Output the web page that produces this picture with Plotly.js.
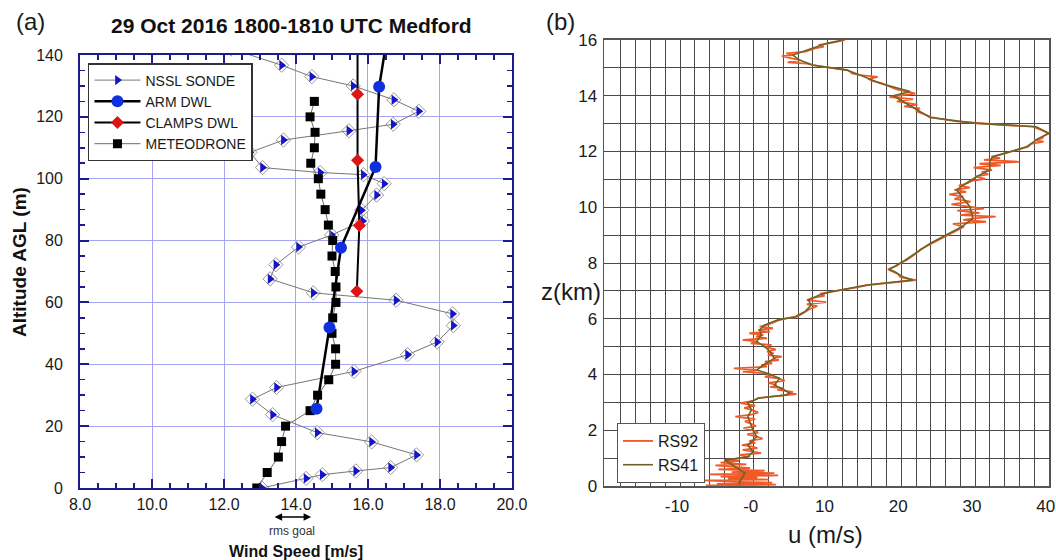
<!DOCTYPE html>
<html>
<head>
<meta charset="utf-8">
<script src="https://cdn.plot.ly/plotly-3.0.1.min.js"></script>
<style>html,body{margin:0;padding:0;background:#fff;}#chart{width:1056px;height:560px;}</style>
</head>
<body>
<div id="chart"></div>
<script>
// ---------- Panel (a) data ----------
const nsslAlt   = [0, 3.1, 4.3, 5.5, 6.6, 10.7, 14.9, 17.9, 23.7, 28.7, 32.5, 37.7, 43.1, 47.2, 52.5, 56.3, 60.7, 63.1, 67.6, 72.2, 77.9, 81.8, 86.3, 89.8, 94.7, 98.4, 101.3, 102.0, 103.6, 108.5, 112.5, 115.5, 117.6, 121.8, 125.5, 130.0, 133.0, 136.7, 142.0];
const nsslSpeed = [13.05, 14.28, 14.73, 15.66, 16.63, 17.35, 16.10, 14.59, 13.35, 12.79, 13.46, 15.61, 17.10, 17.92, 18.37, 18.35, 16.78, 14.48, 13.28, 13.44, 14.07, 14.99, 15.85, 15.82, 16.24, 16.45, 15.87, 14.67, 13.07, 12.72, 13.65, 15.47, 16.70, 17.41, 16.72, 15.59, 14.44, 13.60, 12.2];

const armAlt   = [25.6, 51.9, 77.7, 103.8, 129.7, 155];
const armSpeed = [14.57, 14.93, 15.25, 16.21, 16.31, 16.66];

const clampsAlt   = [63.6, 84.9, 106.0, 127.3, 150];
const clampsSpeed = [15.69, 15.76, 15.71, 15.71, 15.71];

const meteoAlt   = [0, 5, 10, 15, 20, 25, 30, 35, 40, 45, 50, 55, 60, 65, 70, 75, 80, 85, 90, 95, 100, 105, 110, 115, 120, 125];
const meteoSpeed = [12.91, 13.20, 13.51, 13.60, 13.71, 14.39, 14.60, 14.91, 15.10, 15.10, 15.00, 15.02, 15.11, 15.11, 15.09, 15.00, 15.02, 14.90, 14.81, 14.69, 14.62, 14.41, 14.51, 14.53, 14.39, 14.51];

const xTicksA = [8, 10, 12, 14, 16, 18, 20];

// ---------- Panel (b) data ----------
const rs41Z = [0.05, 0.2, 0.46, 0.69, 0.93, 1.05, 1.23, 1.47, 1.77, 2.0, 2.25, 2.49, 2.73, 2.97, 3.15, 3.26, 3.33, 3.5, 3.62, 3.86, 4.04, 4.16, 4.34, 4.58, 4.82, 5.0, 5.18, 5.42, 5.6, 5.78, 5.96, 6.07, 6.25, 6.49, 6.67, 6.85, 6.97, 7.1, 7.21, 7.39, 7.51, 7.69, 7.77, 8.1, 8.7, 9.3, 9.6, 10.02, 10.38, 10.62, 10.86, 11.1, 11.34, 11.63, 11.81, 11.99, 12.17, 12.47, 12.65, 12.89, 13.01, 13.22, 13.73, 14.0, 14.15, 14.45, 14.74, 14.92, 15.1, 15.28, 15.46, 15.58, 15.7, 15.88, 15.96, 16.0];
const rs41U = [-2.0, -1.8, -1.2, -2.6, -3.9, -0.8, -0.1, -0.8, 0.4, -0.1, -0.5, -0.8, -0.3, -0.8, 0.6, 4.2, 4.9, 3.8, 2.8, 3.5, 1.9, 0.4, 1.3, 2.8, 2.2, 1.5, 0.4, 1.0, 0.8, 1.5, 3.3, 5.6, 6.9, 7.8, 7.4, 8.9, 10.5, 13.0, 15.3, 21.6, 20.2, 19.1, 18.4, 20.5, 23.9, 28.2, 29.7, 29.3, 28.2, 27.5, 28.8, 30.2, 32.0, 32.0, 32.4, 34.7, 37.0, 38.6, 40.0, 38.3, 30.2, 23.9, 20.7, 18.9, 21.2, 17.1, 14.4, 12.6, 8.0, 6.2, 5.3, 6.7, 8.0, 9.9, 11.4, 12.0];

const rs92Z = [0.02, 0.05, 0.08, 0.12, 0.15, 0.2, 0.23, 0.27, 0.3, 0.34, 0.38, 0.42, 0.46, 0.5, 0.55, 0.6, 0.64, 0.69, 0.74, 0.78, 0.84, 0.9, 0.93, 0.97, 1.02, 1.06, 1.12, 1.18, 1.23, 1.3, 1.36, 1.42, 1.47, 1.55, 1.62, 1.7, 1.77, 1.85, 1.92, 2.0, 2.08, 2.15, 2.25, 2.32, 2.4, 2.49, 2.56, 2.64, 2.73, 2.8, 2.88, 2.97, 3.05, 3.15, 3.2, 3.26, 3.3, 3.33, 3.38, 3.45, 3.5, 3.56, 3.62, 3.7, 3.78, 3.86, 3.92, 3.98, 4.04, 4.1, 4.16, 4.22, 4.28, 4.34, 4.4, 4.46, 4.52, 4.58, 4.64, 4.7, 4.76, 4.82, 4.9, 5.0, 5.06, 5.12, 5.18, 5.24, 5.3, 5.36, 5.42, 5.48, 5.54, 5.6, 5.66, 5.72, 5.78, 5.86, 5.96, 6.02, 6.07, 6.15, 6.25, 6.35, 6.45, 6.52, 6.6, 6.67, 6.75, 6.82, 6.9, 6.97, 7.05, 7.12, 7.21, 7.3, 7.39, 7.45, 7.51, 7.6, 7.69, 7.77, 7.9, 8.0, 8.1, 8.3, 8.5, 8.7, 8.9, 9.1, 9.2, 9.3, 9.4, 9.48, 9.55, 9.6, 9.66, 9.72, 9.8, 9.88, 9.95, 10.02, 10.1, 10.2, 10.3, 10.38, 10.46, 10.55, 10.62, 10.7, 10.78, 10.86, 10.95, 11.02, 11.1, 11.18, 11.26, 11.34, 11.42, 11.5, 11.56, 11.63, 11.7, 11.76, 11.81, 11.9, 11.99, 12.08, 12.17, 12.27, 12.35, 12.41, 12.47, 12.56, 12.65, 12.75, 12.82, 12.89, 12.95, 13.01, 13.08, 13.15, 13.22, 13.35, 13.45, 13.55, 13.62, 13.68, 13.73, 13.8, 13.88, 13.95, 14.0, 14.08, 14.15, 14.22, 14.3, 14.38, 14.45, 14.52, 14.6, 14.68, 14.74, 14.8, 14.88, 14.92, 15.0, 15.05, 15.1, 15.15, 15.2, 15.28, 15.35, 15.42, 15.46, 15.52, 15.58, 15.64, 15.7, 15.76, 15.82, 15.88, 15.94, 16.0];
const rs92U = [-6.5, 3.0, -5.0, 2.5, -2.0, -6.8, 2.0, -3.5, 0.5, -4.5, 3.3, -6.0, 2.8, -3.0, 1.5, -4.8, -0.5, -2.6, -5.2, -1.0, -4.5, -2.0, -4.0, -2.5, -1.0, -0.5, -2.0, 1.0, -0.1, -1.5, 0.5, -0.3, -1.6, 0.2, -0.6, 1.2, 0.4, -0.9, 0.6, -0.1, -1.4, 0.3, -0.5, -1.2, 0.2, -2.5, -0.3, 0.6, -0.3, -1.3, 0.2, -1.8, -0.2, 0.6, 2.0, 4.2, 5.8, 4.6, 5.3, 3.2, 4.1, 2.2, 3.1, 2.0, 4.2, 3.3, 1.5, 2.6, 1.6, -1.5, 0.6, -2.7, 1.8, 1.0, 2.5, 1.5, 3.4, 2.6, 3.8, 1.9, 2.7, 1.8, 3.0, 1.3, 2.4, -0.4, 0.6, -1.5, 1.8, 0.3, 1.3, -0.6, 2.2, 0.6, 2.6, 0.8, 1.8, 2.6, 3.5, 4.6, 5.8, 6.4, 7.1, 7.6, 8.6, 7.2, 9.8, 7.2, 8.0, 9.6, 9.0, 10.6, 12.5, 13.8, 15.5, 18.5, 22.0, 20.6, 19.8, 19.6, 18.8, 18.2, 19.4, 19.9, 20.7, 21.8, 22.7, 24.1, 25.5, 27.0, 27.8, 28.5, 27.0, 31.5, 28.4, 29.9, 32.8, 28.0, 30.6, 27.6, 31.2, 29.2, 26.8, 29.4, 27.2, 28.4, 26.5, 28.8, 27.2, 29.3, 27.8, 29.0, 29.6, 31.4, 30.0, 31.8, 30.9, 32.3, 29.8, 33.5, 30.6, 36.0, 31.2, 33.4, 32.2, 33.6, 34.9, 36.0, 37.2, 37.6, 39.3, 38.0, 39.1, 39.3, 40.0, 39.2, 38.6, 37.8, 34.0, 30.5, 27.5, 25.8, 24.2, 23.0, 22.0, 22.5, 20.4, 22.2, 20.9, 19.4, 21.6, 18.4, 19.6, 21.9, 20.8, 19.5, 18.7, 17.9, 17.3, 16.2, 15.5, 16.8, 14.4, 13.3, 13.0, 12.7, 10.2, 9.0, 8.0, 7.2, 4.6, 6.3, 5.0, 3.8, 5.4, 4.4, 7.0, 7.7, 8.3, 9.5, 8.8, 10.2, 11.3, 12.4];

const xGridB = [-18, -16, -14, -12, -10, -8, -6, -4, -2, 0, 2, 4, 6, 8, 10, 12, 14, 16, 18, 20, 22, 24, 26, 28, 30, 32, 34, 36, 38, 40];
const xLabelB = {"-10": "-10", "0": "-0", "10": "10", "20": "20", "30": "30", "40": "40"};
const yGridB = [0, 1, 2, 3, 4, 5, 6, 7, 8, 9, 10, 11, 12, 13, 14, 15, 16];

// ---------- figure ----------
const FONT = "Liberation Sans, Arial, Helvetica, sans-serif";
const NAVY = "#1c1c8a";

const traces = [
  { x: nsslSpeed, y: nsslAlt, type: "scatter", mode: "markers", showlegend: false, hoverinfo: "skip",
    marker: { symbol: "diamond", size: 11, color: "#ffffff", line: { color: "#9a9a9a", width: 1 } } },
  { x: nsslSpeed, y: nsslAlt, type: "scatter", mode: "lines+markers", name: "NSSL SONDE", legendrank: 1,
    line: { color: "#777777", width: 1 },
    marker: { symbol: "triangle-right", size: 9, color: "#1414c8", line: { width: 0 } } },
  { x: meteoSpeed, y: meteoAlt, type: "scatter", mode: "lines+markers", name: "METEODRONE", legendrank: 4,
    line: { color: "#6a6a6a", width: 1 },
    marker: { symbol: "square", size: 9, color: "#000000" } },
  { x: clampsSpeed, y: clampsAlt, type: "scatter", mode: "lines+markers", name: "CLAMPS DWL", legendrank: 3,
    line: { color: "#000000", width: 2 },
    marker: { symbol: "diamond", size: 10, color: "#e01414" } },
  { x: armSpeed, y: armAlt, type: "scatter", mode: "lines+markers", name: "ARM DWL", legendrank: 2,
    line: { color: "#000000", width: 2.5 },
    marker: { symbol: "circle", size: 12, color: "#1030e0" } },

  { x: rs92U, y: rs92Z, type: "scatter", mode: "lines", name: "RS92", xaxis: "x2", yaxis: "y2", legend: "legend2",
    line: { color: "#f05a28", width: 1.8 } },
  { x: rs41U, y: rs41Z, type: "scatter", mode: "lines", name: "RS41", xaxis: "x2", yaxis: "y2", legend: "legend2",
    line: { color: "#6a6428", width: 1.6 } }
];

const layout = {
  width: 1056, height: 560,
  margin: { l: 0, r: 0, t: 0, b: 0 },
  paper_bgcolor: "#ffffff", plot_bgcolor: "#ffffff",
  font: { family: FONT, color: "#1a1a1a" },
  showlegend: true,
  xaxis: {
    domain: [0.0758, 0.4848], range: [8, 20], anchor: "y",
    tickmode: "array", tickvals: xTicksA, tickformat: ".1f",
    ticks: "inside", ticklen: 9, tickwidth: 2, tickcolor: NAVY,
    showline: true, linewidth: 2, linecolor: NAVY, mirror: "ticks",
    showgrid: true, gridcolor: "#a4a4f2", gridwidth: 1, zeroline: false,
    minor: { dtick: 0.5, ticks: "inside", ticklen: 5, tickwidth: 1.5, tickcolor: NAVY, showgrid: false },
    tickfont: { size: 16, color: "#1a1a1a" }, ticklabelstandoff: 1, ticklabeloverflow: "allow"
  },
  yaxis: {
    domain: [0.1286, 0.9018], range: [0, 140], anchor: "x",
    dtick: 20, tick0: 0,
    ticks: "inside", ticklen: 9, tickwidth: 2, tickcolor: NAVY,
    showline: true, linewidth: 2, linecolor: NAVY, mirror: "ticks",
    showgrid: true, gridcolor: "#a4a4f2", gridwidth: 1, zeroline: false,
    minor: { dtick: 5, ticks: "inside", ticklen: 5, tickwidth: 1.5, tickcolor: NAVY, showgrid: false },
    tickfont: { size: 16, color: "#1a1a1a" }, ticklabelstandoff: 12, ticklabeloverflow: "allow"
  },
  xaxis2: {
    domain: [0.572, 0.9934], range: [-20.3, 40.03], anchor: "y2",
    tickmode: "array", tickvals: xGridB, ticktext: xGridB.map(v => xLabelB[String(v)] || ""),
    ticks: "", showline: true, linewidth: 1.5, linecolor: "#555555", mirror: true,
    showgrid: true, gridcolor: "#4a4a4a", gridwidth: 1, zeroline: false,
    tickfont: { size: 17, color: "#1a1a1a" }, ticklabelstandoff: 4, ticklabelshift: -3, ticklabeloverflow: "allow"
  },
  yaxis2: {
    domain: [0.1321, 0.9286], range: [0, 16], anchor: "x2",
    tickmode: "array", tickvals: yGridB, ticktext: yGridB.map(v => v % 2 === 0 ? String(v) : ""),
    ticks: "", showline: true, linewidth: 1.5, linecolor: "#555555", mirror: true,
    showgrid: true, gridcolor: "#4a4a4a", gridwidth: 1, zeroline: false,
    tickfont: { size: 17, color: "#1a1a1a" }, ticklabelstandoff: 2, ticklabeloverflow: "allow"
  },
  legend: {
    x: 0.0833, y: 0.8875, xanchor: "left", yanchor: "top",
    bgcolor: "#ffffff", bordercolor: "#333333", borderwidth: 1.5,
    font: { size: 14, family: FONT, color: "#1a1a1a" }, tracegroupgap: 0, itemwidth: 46
  },
  legend2: {
    x: 0.5843, y: 0.2446, xanchor: "left", yanchor: "top",
    bgcolor: "#ffffff", bordercolor: "#555555", borderwidth: 1,
    font: { size: 16, family: FONT, color: "#1a1a1a" }, tracegroupgap: 0
  },
  annotations: [
    { text: "(a)", xref: "paper", yref: "paper", x: 30 / 1056, y: (560 - 22) / 560, showarrow: false,
      xanchor: "center", yanchor: "middle", font: { size: 24, color: "#1a1a1a" } },
    { text: "<b>29 Oct 2016 1800-1810 UTC Medford</b>", xref: "paper", yref: "paper", x: 291 / 1056, y: (560 - 26) / 560,
      showarrow: false, xanchor: "center", yanchor: "middle", font: { size: 21, color: "#111111" } },
    { text: "<b>Altitude AGL (m)</b>", xref: "paper", yref: "paper", x: 19 / 1056, y: (560 - 262) / 560,
      showarrow: false, textangle: -90, xanchor: "center", yanchor: "middle", font: { size: 19, color: "#111111" } },
    { text: "<b>Wind Speed [m/s]</b>", xref: "paper", yref: "paper", x: 296 / 1056, y: (560 - 551) / 560,
      showarrow: false, xanchor: "center", yanchor: "middle", font: { size: 16, color: "#111111" } },
    { text: "rms goal", xref: "paper", yref: "paper", x: 292 / 1056, y: (560 - 531) / 560,
      showarrow: false, xanchor: "center", yanchor: "middle", font: { size: 12, color: "#333333" } },
    { text: "", xref: "x", yref: "paper", x: 14.42, y: (560 - 517) / 560, ax: -38, ay: 0,
      showarrow: true, arrowside: "end+start", arrowhead: 2, arrowsize: 1, arrowwidth: 1.5, arrowcolor: "#000000" },
    { text: "(b)", xref: "paper", yref: "paper", x: 560 / 1056, y: (560 - 22) / 560, showarrow: false,
      xanchor: "center", yanchor: "middle", font: { size: 24, color: "#1a1a1a" } },
    { text: "z(km)", xref: "paper", yref: "paper", x: 571 / 1056, y: (560 - 292) / 560, showarrow: false,
      xanchor: "center", yanchor: "middle", font: { size: 24, color: "#1a1a1a" } },
    { text: "u (m/s)", xref: "paper", yref: "paper", x: 825 / 1056, y: (560 - 534) / 560, showarrow: false,
      xanchor: "center", yanchor: "middle", font: { size: 24, color: "#1a1a1a" } }
  ]
};

Plotly.newPlot("chart", traces, layout, { displayModeBar: false, staticPlot: true });
</script>
</body>
</html>
